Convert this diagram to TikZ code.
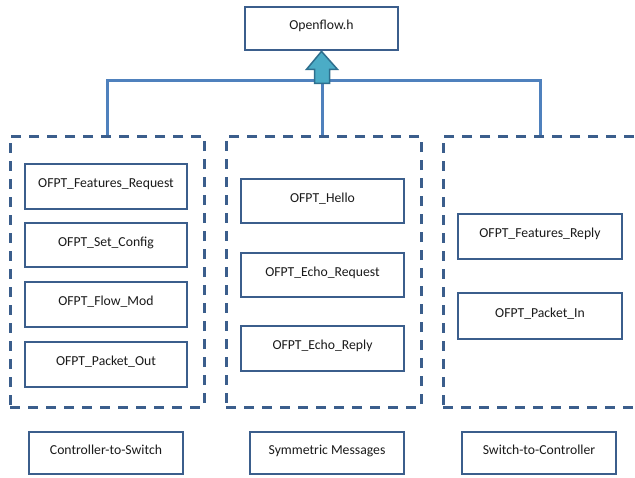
\documentclass[tikz,border=0pt]{standalone}
\usepackage{fontspec}
\setmainfont{Carlito}
\definecolor{boxblue}{HTML}{3B5E8C}
\definecolor{connblue}{HTML}{4F81BD}
\definecolor{tealfill}{HTML}{4BACC6}
\definecolor{tealline}{HTML}{2E6F8E}
\definecolor{txt}{HTML}{1A1A1A}
\begin{document}
\begin{tikzpicture}[x=1pt,y=-1pt,
  msgbox/.style={draw=boxblue, line width=2.8pt, fill=white, inner sep=0pt,
    font=\fontsize{13.7}{15}\selectfont, text=txt, text height=10pt, text depth=8pt},
  group/.style={draw=boxblue, line width=3pt, dash pattern=on 10pt off 8pt, inner sep=0pt},
  conn/.style={draw=connblue, line width=3pt},
  uparrow/.style={draw=tealline, line width=1.5pt, fill=tealfill, line join=miter}
]
\clip (0,0) rectangle (635,477);
\fill[white] (0,0) rectangle (635,477);

% top node
\node[msgbox, minimum width=153pt, minimum height=43pt] (top) at (321.5,28.5) {Openflow.h};

% dashed groups
\node[group, minimum width=194pt, minimum height=271pt] (gL) at (107,271.5) {};
\node[group, minimum width=195pt, minimum height=271pt] (gM) at (323.5,271.5) {};
\node[group, minimum width=194pt, minimum height=271pt] (gR) at (540,271.5) {};

% connectors
\coordinate (bus) at (322,80);
\draw[conn] (gL.north) -- (gL.north |- bus) -| (gR.north);
\draw[conn] (gM.north -| bus) -- (bus);

% up arrow
\draw[uparrow] (top.south) -- ++(16,18) -- ++(-8,0) -- ++(0,14) -- ++(-15,0) -- ++(0,-14) -- ++(-8,0) -- cycle;

% left inner boxes
\node[msgbox, minimum width=162pt, minimum height=45pt] (fr) at (106,186.5) {OFPT\_Features\_Request};
\node[msgbox, minimum width=162pt, minimum height=44pt] (sc) at (106,245) {OFPT\_Set\_Config};
\node[msgbox, minimum width=162pt, minimum height=45pt] (fm) at (106,304.5) {OFPT\_Flow\_Mod};
\node[msgbox, minimum width=162pt, minimum height=45pt] (po) at (106,364.5) {OFPT\_Packet\_Out};

% middle inner boxes
\node[msgbox, minimum width=163pt, minimum height=44pt] (he) at (322.5,201) {OFPT\_Hello};
\node[msgbox, minimum width=163pt, minimum height=44pt] (er) at (322.5,275) {OFPT\_Echo\_Request};
\node[msgbox, minimum width=163pt, minimum height=45pt] (ep) at (322.5,348.5) {OFPT\_Echo\_Reply};

% right inner boxes
\node[msgbox, minimum width=164pt, minimum height=45pt] (fp) at (540,236.5) {OFPT\_Features\_Reply};
\node[msgbox, minimum width=164pt, minimum height=46pt] (pi) at (540,316) {OFPT\_Packet\_In};

% bottom labels
\node[msgbox, minimum width=154pt, minimum height=42pt] (l1) at (106,453) {Controller-to-Switch};
\node[msgbox, minimum width=154pt, minimum height=42pt] (l2) at (327,453) {Symmetric Messages};
\node[msgbox, minimum width=154pt, minimum height=42pt] (l3) at (539,453) {Switch-to-Controller};
\end{tikzpicture}
\end{document}
